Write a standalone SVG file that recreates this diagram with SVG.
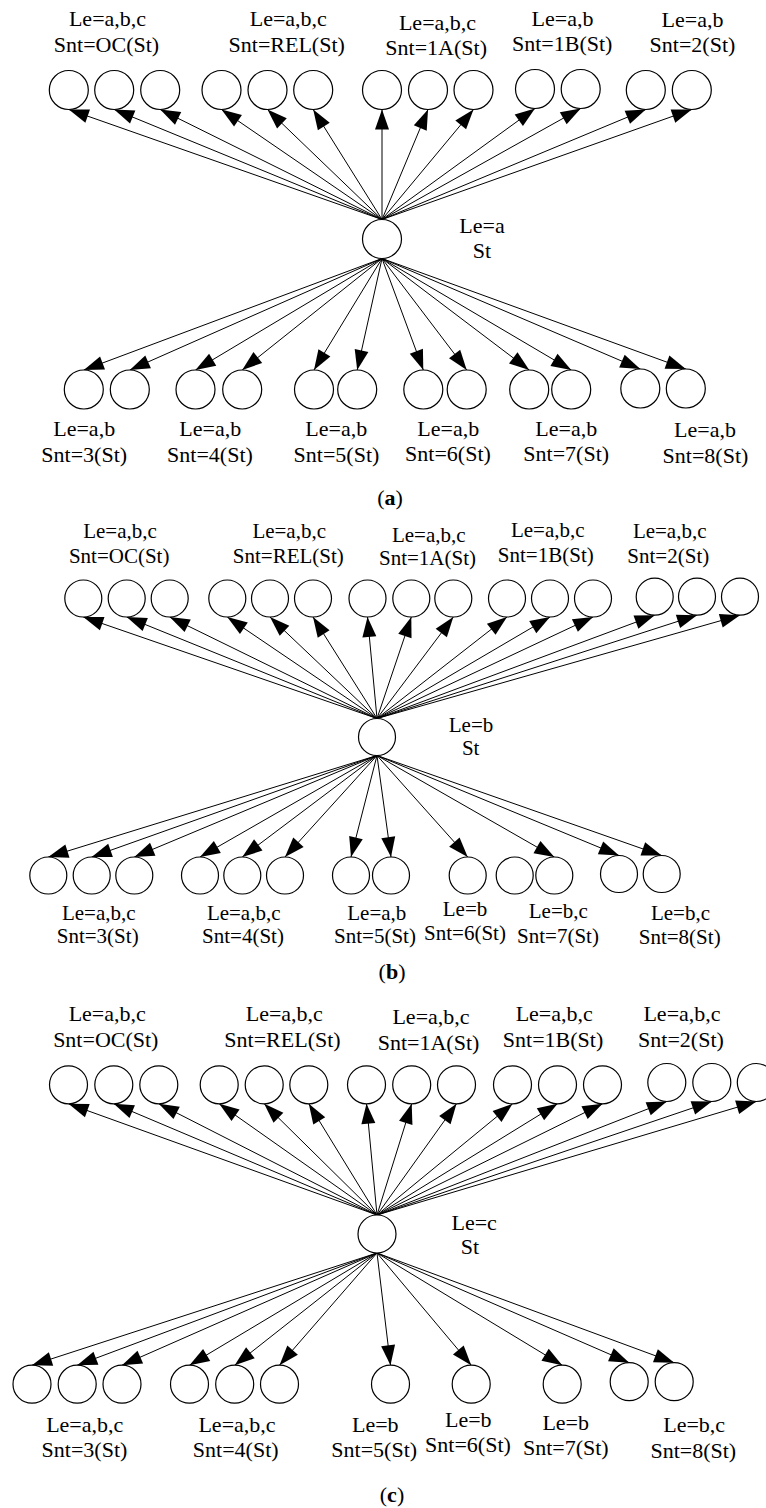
<svg xmlns="http://www.w3.org/2000/svg" width="766" height="1508" viewBox="0 0 766 1508">
<defs>
<marker id="ah" markerUnits="userSpaceOnUse" markerWidth="20" markerHeight="14" refX="20" refY="7" orient="auto" overflow="visible">
<path d="M0,0 L20,7 L0,14 z" fill="#000"/>
</marker>
<style>
.n{fill:#fff;stroke:#000;stroke-width:1.2}
.e line{stroke:#000;stroke-width:1;fill:none;marker-end:url(#ah)}
text{font-family:"Liberation Serif","Times New Roman",serif;font-size:22px;text-anchor:middle;fill:#000}
.pb text{font-size:21px}
.cap{font-size:22px}
</style>
</defs>
<rect width="766" height="1508" fill="#fff"/>

<!-- ===== Panel (a) ===== -->
<g id="panel-a">
<g id="a-edges" class="e">
<line x1="382" y1="219.5" x2="68.8" y2="109.5"/>
<line x1="382" y1="219.5" x2="114.2" y2="109.5"/>
<line x1="382" y1="219.5" x2="160.2" y2="109.5"/>
<line x1="382" y1="219.5" x2="221.5" y2="109.5"/>
<line x1="382" y1="219.5" x2="267.5" y2="109.5"/>
<line x1="382" y1="219.5" x2="313.2" y2="109.5"/>
<line x1="382" y1="219.5" x2="382" y2="109.5"/>
<line x1="382" y1="219.5" x2="428" y2="109.5"/>
<line x1="382" y1="219.5" x2="473.5" y2="109.5"/>
<line x1="382" y1="219.5" x2="535" y2="108.5"/>
<line x1="382" y1="219.5" x2="580.7" y2="108.5"/>
<line x1="382" y1="219.5" x2="645.8" y2="109.5"/>
<line x1="382" y1="219.5" x2="691.8" y2="109.5"/>
<line x1="382" y1="258.5" x2="83.8" y2="370"/>
<line x1="382" y1="258.5" x2="129.8" y2="370"/>
<line x1="382" y1="258.5" x2="195.5" y2="370"/>
<line x1="382" y1="258.5" x2="242.2" y2="370"/>
<line x1="382" y1="258.5" x2="314" y2="370"/>
<line x1="382" y1="258.5" x2="357.2" y2="370"/>
<line x1="382" y1="258.5" x2="423.3" y2="370"/>
<line x1="382" y1="258.5" x2="466.7" y2="370"/>
<line x1="382" y1="258.5" x2="529.2" y2="370"/>
<line x1="382" y1="258.5" x2="571.2" y2="370"/>
<line x1="382" y1="258.5" x2="640.3" y2="369"/>
<line x1="382" y1="258.5" x2="685.8" y2="369"/>
</g>
<g id="a-hub"><circle class="n" cx="382" cy="239" r="19.5"/><text x="482" y="233">Le=a</text><text x="482" y="258">St</text></g>
<g id="a-OC"><circle class="n" cx="68.8" cy="90" r="19.5"/><circle class="n" cx="114.2" cy="90" r="19.5"/><circle class="n" cx="160.2" cy="90" r="19.5"/><text x="107.5" y="26">Le=a,b,c</text><text x="106.5" y="52">Snt=OC(St)</text></g>
<g id="a-REL"><circle class="n" cx="221.5" cy="90" r="19.5"/><circle class="n" cx="267.5" cy="90" r="19.5"/><circle class="n" cx="313.2" cy="90" r="19.5"/><text x="288.3" y="26">Le=a,b,c</text><text x="286.7" y="52">Snt=REL(St)</text></g>
<g id="a-1A"><circle class="n" cx="382" cy="90" r="19.5"/><circle class="n" cx="428" cy="90" r="19.5"/><circle class="n" cx="473.5" cy="90" r="19.5"/><text x="437.5" y="30">Le=a,b,c</text><text x="436.2" y="54.5">Snt=1A(St)</text></g>
<g id="a-1B"><circle class="n" cx="535" cy="89" r="19.5"/><circle class="n" cx="580.7" cy="89" r="19.5"/><text x="562.5" y="25.5">Le=a,b</text><text x="562.2" y="50.5">Snt=1B(St)</text></g>
<g id="a-2"><circle class="n" cx="645.8" cy="90" r="19.5"/><circle class="n" cx="691.8" cy="90" r="19.5"/><text x="692.5" y="26.5">Le=a,b</text><text x="692.5" y="52">Snt=2(St)</text></g>
<g id="a-3"><circle class="n" cx="83.8" cy="389.5" r="19.5"/><circle class="n" cx="129.8" cy="389.5" r="19.5"/><text x="84.2" y="436">Le=a,b</text><text x="84.2" y="462">Snt=3(St)</text></g>
<g id="a-4"><circle class="n" cx="195.5" cy="389.5" r="19.5"/><circle class="n" cx="242.2" cy="389.5" r="19.5"/><text x="210.3" y="436">Le=a,b</text><text x="210" y="462">Snt=4(St)</text></g>
<g id="a-5"><circle class="n" cx="314" cy="389.5" r="19.5"/><circle class="n" cx="357.2" cy="389.5" r="19.5"/><text x="336.3" y="436">Le=a,b</text><text x="336.5" y="462">Snt=5(St)</text></g>
<g id="a-6"><circle class="n" cx="423.3" cy="389.5" r="19.5"/><circle class="n" cx="466.7" cy="389.5" r="19.5"/><text x="448.3" y="435.5">Le=a,b</text><text x="448" y="461">Snt=6(St)</text></g>
<g id="a-7"><circle class="n" cx="529.2" cy="389.5" r="19.5"/><circle class="n" cx="571.2" cy="389.5" r="19.5"/><text x="566.3" y="435.5">Le=a,b</text><text x="566.2" y="461">Snt=7(St)</text></g>
<g id="a-8"><circle class="n" cx="640.3" cy="388.5" r="19.5"/><circle class="n" cx="685.8" cy="388.5" r="19.5"/><text x="705" y="437">Le=a,b</text><text x="705.5" y="463">Snt=8(St)</text></g>
<text class="cap" x="390" y="505">(<tspan font-weight="bold">a</tspan>)</text>
</g>

<!-- ===== Panel (b) ===== -->
<g id="panel-b" class="pb">
<g id="b-edges" class="e">
<line x1="377" y1="718.5" x2="83.3" y2="617"/>
<line x1="377" y1="718.5" x2="126.7" y2="617"/>
<line x1="377" y1="718.5" x2="169.7" y2="617"/>
<line x1="377" y1="718.5" x2="227.3" y2="617"/>
<line x1="377" y1="718.5" x2="270" y2="617"/>
<line x1="377" y1="718.5" x2="313" y2="617"/>
<line x1="377" y1="718.5" x2="367.5" y2="617"/>
<line x1="377" y1="718.5" x2="411.3" y2="617"/>
<line x1="377" y1="718.5" x2="453.3" y2="617"/>
<line x1="377" y1="718.5" x2="507" y2="617"/>
<line x1="377" y1="718.5" x2="550" y2="617"/>
<line x1="377" y1="718.5" x2="593" y2="617"/>
<line x1="377" y1="718.5" x2="654.7" y2="615.2"/>
<line x1="377" y1="718.5" x2="697" y2="615.2"/>
<line x1="377" y1="718.5" x2="740" y2="615.2"/>
<line x1="377" y1="755.5" x2="48.3" y2="857"/>
<line x1="377" y1="755.5" x2="91.7" y2="857"/>
<line x1="377" y1="755.5" x2="134.3" y2="857"/>
<line x1="377" y1="755.5" x2="200" y2="857"/>
<line x1="377" y1="755.5" x2="242.3" y2="857"/>
<line x1="377" y1="755.5" x2="285" y2="857"/>
<line x1="377" y1="755.5" x2="351" y2="857"/>
<line x1="377" y1="755.5" x2="391" y2="857"/>
<line x1="377" y1="755.5" x2="467.7" y2="857"/>
<line x1="377" y1="755.5" x2="554.3" y2="857"/>
<line x1="377" y1="755.5" x2="619" y2="855.5"/>
<line x1="377" y1="755.5" x2="661.7" y2="855.5"/>
</g>
<g id="b-hub"><circle class="n" cx="377" cy="737" r="18.5"/><text x="471" y="731.5">Le=b</text><text x="470.7" y="754.5">St</text></g>
<g id="b-OC"><circle class="n" cx="83.3" cy="598.5" r="18.5"/><circle class="n" cx="126.7" cy="598.5" r="18.5"/><circle class="n" cx="169.7" cy="598.5" r="18.5"/><text x="120" y="538.3">Le=a,b,c</text><text x="119.2" y="562.7">Snt=OC(St)</text></g>
<g id="b-REL"><circle class="n" cx="227.3" cy="598.5" r="18.5"/><circle class="n" cx="270" cy="598.5" r="18.5"/><circle class="n" cx="313" cy="598.5" r="18.5"/><text x="289.2" y="538.3">Le=a,b,c</text><text x="288.3" y="562.7">Snt=REL(St)</text></g>
<g id="b-1A"><circle class="n" cx="367.5" cy="598.5" r="18.5"/><circle class="n" cx="411.3" cy="598.5" r="18.5"/><circle class="n" cx="453.3" cy="598.5" r="18.5"/><text x="428.8" y="541.7">Le=a,b,c</text><text x="427.5" y="565">Snt=1A(St)</text></g>
<g id="b-1B"><circle class="n" cx="507" cy="598.5" r="18.5"/><circle class="n" cx="550" cy="598.5" r="18.5"/><circle class="n" cx="593" cy="598.5" r="18.5"/><text x="547.8" y="536.7">Le=a,b,c</text><text x="545.8" y="561.7">Snt=1B(St)</text></g>
<g id="b-2"><circle class="n" cx="654.7" cy="596.7" r="18.5"/><circle class="n" cx="697" cy="596.7" r="18.5"/><circle class="n" cx="740" cy="596.7" r="18.5"/><text x="669.7" y="537.7">Le=a,b,c</text><text x="668.3" y="562.7">Snt=2(St)</text></g>
<g id="b-3"><circle class="n" cx="48.3" cy="875.5" r="18.5"/><circle class="n" cx="91.7" cy="875.5" r="18.5"/><circle class="n" cx="134.3" cy="875.5" r="18.5"/><text x="98.8" y="920">Le=a,b,c</text><text x="97.7" y="943.3">Snt=3(St)</text></g>
<g id="b-4"><circle class="n" cx="200" cy="875.5" r="18.5"/><circle class="n" cx="242.3" cy="875.5" r="18.5"/><circle class="n" cx="285" cy="875.5" r="18.5"/><text x="243.7" y="920">Le=a,b,c</text><text x="243" y="943.3">Snt=4(St)</text></g>
<g id="b-5"><circle class="n" cx="351" cy="875.5" r="18.5"/><circle class="n" cx="391" cy="875.5" r="18.5"/><text x="376.8" y="920">Le=a,b</text><text x="375" y="943.3">Snt=5(St)</text></g>
<g id="b-6"><circle class="n" cx="467.7" cy="875.5" r="18.5"/><text x="465" y="915.7">Le=b</text><text x="465" y="940">Snt=6(St)</text></g>
<g id="b-7"><circle class="n" cx="514.7" cy="875.5" r="18.5"/><circle class="n" cx="554.3" cy="875.5" r="18.5"/><text x="558.3" y="918.3">Le=b,c</text><text x="558" y="942.7">Snt=7(St)</text></g>
<g id="b-8"><circle class="n" cx="619" cy="874" r="18.5"/><circle class="n" cx="661.7" cy="874" r="18.5"/><text x="680.5" y="920">Le=b,c</text><text x="679.7" y="944.3">Snt=8(St)</text></g>
<text class="cap" x="392" y="979" style="font-size:22px">(<tspan font-weight="bold">b</tspan>)</text>
</g>

<!-- ===== Panel (c) ===== -->
<g id="panel-c">
<g id="c-edges" class="e">
<line x1="377" y1="1215" x2="68.5" y2="1103.8"/>
<line x1="377" y1="1215" x2="113.8" y2="1103.8"/>
<line x1="377" y1="1215" x2="158.8" y2="1103.8"/>
<line x1="377" y1="1215" x2="219.2" y2="1103.8"/>
<line x1="377" y1="1215" x2="264.2" y2="1103.8"/>
<line x1="377" y1="1215" x2="308.8" y2="1103.8"/>
<line x1="377" y1="1215" x2="366.5" y2="1103.8"/>
<line x1="377" y1="1215" x2="411.7" y2="1103.8"/>
<line x1="377" y1="1215" x2="456.5" y2="1103.8"/>
<line x1="377" y1="1215" x2="512.5" y2="1103.8"/>
<line x1="377" y1="1215" x2="557.5" y2="1103.8"/>
<line x1="377" y1="1215" x2="602.5" y2="1103.8"/>
<line x1="377" y1="1215" x2="666.8" y2="1101.5"/>
<line x1="377" y1="1215" x2="711.8" y2="1101.5"/>
<line x1="377" y1="1215" x2="756.3" y2="1101.5"/>
<line x1="377" y1="1253" x2="32" y2="1365.2"/>
<line x1="377" y1="1253" x2="77.2" y2="1365.2"/>
<line x1="377" y1="1253" x2="122" y2="1365.2"/>
<line x1="377" y1="1253" x2="189.5" y2="1365.2"/>
<line x1="377" y1="1253" x2="234.7" y2="1365.2"/>
<line x1="377" y1="1253" x2="279.5" y2="1365.2"/>
<line x1="377" y1="1253" x2="390.5" y2="1365.2"/>
<line x1="377" y1="1253" x2="471.2" y2="1365.2"/>
<line x1="377" y1="1253" x2="562.2" y2="1365.2"/>
<line x1="377" y1="1253" x2="629.2" y2="1362.7"/>
<line x1="377" y1="1253" x2="674.2" y2="1362.7"/>
</g>
<g id="c-hub"><circle class="n" cx="377" cy="1234" r="19"/><text x="474.2" y="1230">Le=c</text><text x="470" y="1254">St</text></g>
<g id="c-OC"><circle class="n" cx="68.5" cy="1084.8" r="19"/><circle class="n" cx="113.8" cy="1084.8" r="19"/><circle class="n" cx="158.8" cy="1084.8" r="19"/><text x="107.2" y="1020.7">Le=a,b,c</text><text x="105.8" y="1046.7">Snt=OC(St)</text></g>
<g id="c-REL"><circle class="n" cx="219.2" cy="1084.8" r="19"/><circle class="n" cx="264.2" cy="1084.8" r="19"/><circle class="n" cx="308.8" cy="1084.8" r="19"/><text x="284.3" y="1020.7">Le=a,b,c</text><text x="282.5" y="1046.7">Snt=REL(St)</text></g>
<g id="c-1A"><circle class="n" cx="366.5" cy="1084.8" r="19"/><circle class="n" cx="411.7" cy="1084.8" r="19"/><circle class="n" cx="456.5" cy="1084.8" r="19"/><text x="431" y="1024">Le=a,b,c</text><text x="428.5" y="1050">Snt=1A(St)</text></g>
<g id="c-1B"><circle class="n" cx="512.5" cy="1084.8" r="19"/><circle class="n" cx="557.5" cy="1084.8" r="19"/><circle class="n" cx="602.5" cy="1084.8" r="19"/><text x="554.2" y="1020.7">Le=a,b,c</text><text x="553" y="1046.7">Snt=1B(St)</text></g>
<g id="c-2"><circle class="n" cx="666.8" cy="1082.5" r="19"/><circle class="n" cx="711.8" cy="1082.5" r="19"/><circle class="n" cx="756.3" cy="1082.5" r="19"/><text x="682" y="1020.7">Le=a,b,c</text><text x="681" y="1046.7">Snt=2(St)</text></g>
<g id="c-3"><circle class="n" cx="32" cy="1384.2" r="19"/><circle class="n" cx="77.2" cy="1384.2" r="19"/><circle class="n" cx="122" cy="1384.2" r="19"/><text x="84.7" y="1431.7">Le=a,b,c</text><text x="84.5" y="1456.7">Snt=3(St)</text></g>
<g id="c-4"><circle class="n" cx="189.5" cy="1384.2" r="19"/><circle class="n" cx="234.7" cy="1384.2" r="19"/><circle class="n" cx="279.5" cy="1384.2" r="19"/><text x="237" y="1431.7">Le=a,b,c</text><text x="235.7" y="1456.7">Snt=4(St)</text></g>
<g id="c-5"><circle class="n" cx="390.5" cy="1384.2" r="19"/><text x="375.3" y="1431.7">Le=b</text><text x="374.2" y="1456.7">Snt=5(St)</text></g>
<g id="c-6"><circle class="n" cx="471.2" cy="1384.2" r="19"/><text x="468.3" y="1426.7">Le=b</text><text x="468" y="1451.7">Snt=6(St)</text></g>
<g id="c-7"><circle class="n" cx="562.2" cy="1384.2" r="19"/><text x="565.7" y="1430">Le=b</text><text x="565.8" y="1455">Snt=7(St)</text></g>
<g id="c-8"><circle class="n" cx="629.2" cy="1381.7" r="19"/><circle class="n" cx="674.2" cy="1381.7" r="19"/><text x="694.2" y="1431.7">Le=b,c</text><text x="693.3" y="1458.3">Snt=8(St)</text></g>
<text class="cap" x="392" y="1502">(<tspan font-weight="bold">c</tspan>)</text>
</g>
</svg>
